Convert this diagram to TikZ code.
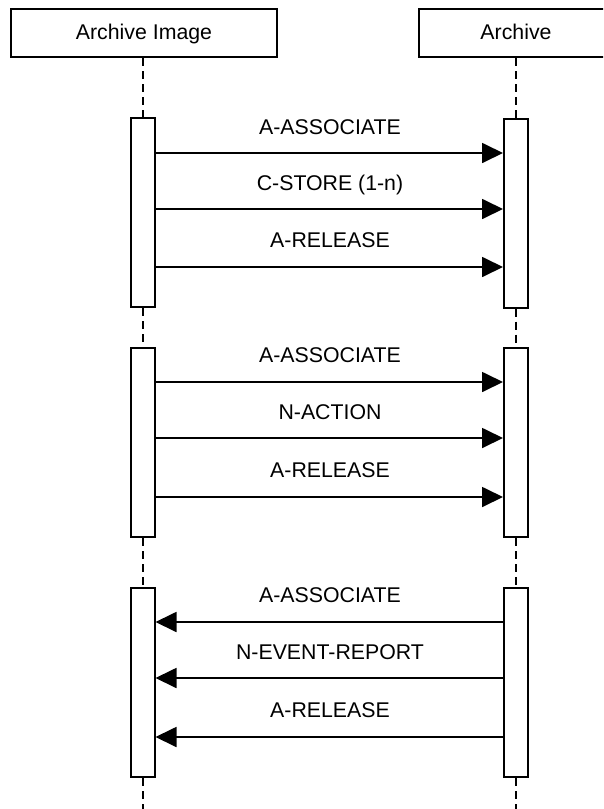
\documentclass[tikz,border=0pt]{standalone}
\usepackage{fontspec}
\setmainfont{Liberation Sans}
\usetikzlibrary{arrows.meta}
\begin{document}
\begin{tikzpicture}[x=1pt,y=-1pt,
  every node/.style={font=\fontsize{21.3}{25}\selectfont},
  head/.style={draw, line width=2pt, minimum height=48pt, inner sep=0pt, text height=15.2pt, text depth=2.6pt},
  actbar/.style={draw, fill=white, line width=2pt, minimum width=24pt, minimum height=189pt, inner sep=0pt},
  life/.style={line width=2pt, dash pattern=on 8pt off 5pt},
  msg/.style={line width=1.8pt, -{Triangle[length=21pt,width=20pt]}},
  lbl/.style={inner sep=0pt, anchor=base}]
\useasboundingbox (0,0) rectangle (603,809);
\clip (0,0) rectangle (603,809);
\fill[white] (0,0) rectangle (603,809);
% heads
\node[head, minimum width=266pt] (hA) at (144,33) {Archive Image};
\node[head, minimum width=194pt] (hB) at (516,33) {Archive};
% activation bars
\node[actbar] (a1) at (142.5,212.5) {};
\node[actbar] (b1) at (516,213) {};
\node[actbar] (a2) at (142.5,442.5) {};
\node[actbar] (b2) at (516,442.5) {};
\node[actbar] (a3) at (142.5,682.5) {};
\node[actbar] (b3) at (516,682.5) {};
\coordinate (ea) at (142.5,809);
\coordinate (eb) at (516,809);
% lifelines
\draw[life] (a1.north |- hA.south) -- (a1.north);
\draw[life] (a1.south) -- (a2.north);
\draw[life] (a2.south) -- (a3.north);
\draw[life] (a3.south) -- (ea);
\draw[life] (b1.north |- hB.south) -- (b1.north);
\draw[life] (b1.south) -- (b2.north);
\draw[life] (b2.south) -- (b3.north);
\draw[life] (b3.south) -- (eb);
% section 1
\draw[msg] (a1.east |- 0,153) -- (b1.west |- 0,153);
\draw[msg] (a1.east |- 0,209) -- (b1.west |- 0,209);
\draw[msg] (a1.east |- 0,267) -- (b1.west |- 0,267);
\node[lbl] (m11) at (330,134.6) {A-ASSOCIATE};
\node[lbl] (m12) at (330,190.6) {C-STORE (1-n)};
\node[lbl] (m13) at (330,247.6) {A-RELEASE};
% section 2
\draw[msg] (a2.east |- 0,382) -- (b2.west |- 0,382);
\draw[msg] (a2.east |- 0,438) -- (b2.west |- 0,438);
\draw[msg] (a2.east |- 0,497) -- (b2.west |- 0,497);
\node[lbl] (m21) at (330,362.6) {A-ASSOCIATE};
\node[lbl] (m22) at (330,419.6) {N-ACTION};
\node[lbl] (m23) at (330,477.6) {A-RELEASE};
% section 3
\draw[msg] (b3.west |- 0,622) -- (a3.east |- 0,622);
\draw[msg] (b3.west |- 0,678) -- (a3.east |- 0,678);
\draw[msg] (b3.west |- 0,737) -- (a3.east |- 0,737);
\node[lbl] (m31) at (330,602.6) {A-ASSOCIATE};
\node[lbl] (m32) at (330,659.6) {N-EVENT-REPORT};
\node[lbl] (m33) at (330,717.6) {A-RELEASE};
\end{tikzpicture}
\end{document}
